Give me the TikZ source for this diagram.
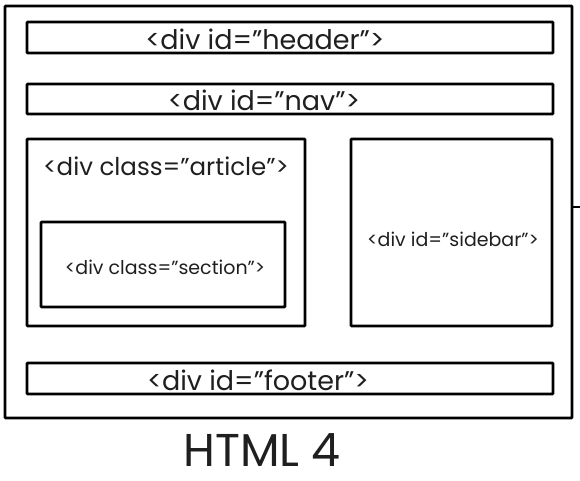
\documentclass[tikz,border=0pt]{standalone}
\usepackage{fontspec}
\setmainfont{Poppins}
\usetikzlibrary{positioning}
\tikzstyle{divbox} = [draw=black, line width=2.8pt, inner sep=0pt, rounded corners=0.8pt]
\tikzstyle{divtext} = [inner sep=0pt, text=black!88]

\begin{document}
\begin{tikzpicture}[x=1pt, y=-1pt]
      \useasboundingbox (0,0) rectangle (580,480);
      %%%%%%%%%%%%%%%%%%%%%%%%%%%%%%%%%%%%%%%
      \node (page) at (288.5,212) [divbox, minimum width=567pt, minimum height=412pt] {};
      \node (header) at (290,37.5) [divbox, minimum width=526pt, minimum height=31pt] {};
      \node (nav) at (290,99) [divbox, minimum width=526pt, minimum height=30pt] {};
      \node (article) at (166,232.5) [divbox, minimum width=278pt, minimum height=187pt] {};
      \node (section) at (163,264.5) [divbox, minimum width=244pt, minimum height=85pt] {};
      \node (sidebar) at (451.5,232.5) [divbox, minimum width=201pt, minimum height=187pt] {};
      \node (footer) at (290,378.5) [divbox, minimum width=526pt, minimum height=31pt] {};
      %% labels
      \node (headertxt) at (265,39) [divtext] {\fontsize{27}{30}\selectfont <div id="header">};
      \node (navtxt) at (264,100) [divtext] {\fontsize{27}{30}\selectfont <div id="nav">};
      \node (articletxt) at (166,166) [divtext] {\fontsize{24.5}{28}\selectfont <div class="article">};
      \node (sectiontxt) at (165,267) [divtext] {\fontsize{19}{22}\selectfont <div class="section">};
      \node (sidebartxt) at (453,239) [divtext] {\fontsize{19}{22}\selectfont <div id="sidebar">};
      \node (footertxt) at (258,380) [divtext] {\fontsize{27}{30}\selectfont <div id="footer">};
      \node (title) at (262,450) [divtext] {\fontsize{46}{50}\selectfont HTML 4};
      %% stub on the right edge
      \coordinate (stub) at (580,207);
      \draw[line width=2.8pt] (page.east |- stub) -- (stub);
\end{tikzpicture}
\end{document}
